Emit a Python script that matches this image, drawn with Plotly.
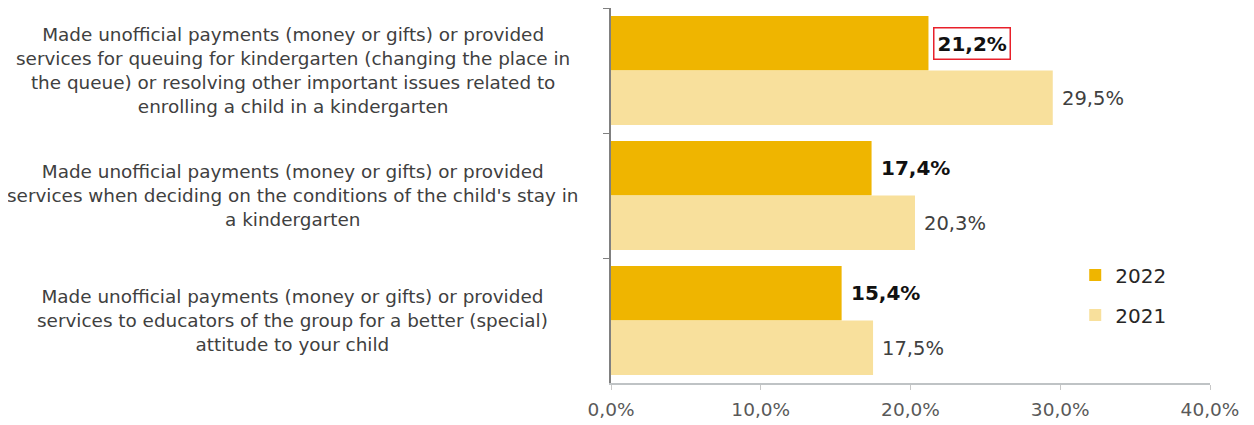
import plotly.graph_objects as go

categories = [
    "Made unofficial payments (money or gifts) or provided<br>services for queuing for kindergarten (changing the place in<br>the queue) or resolving other important issues related to<br>enrolling a child in a kindergarten",
    "Made unofficial payments (money or gifts) or provided<br>services when deciding on the conditions of the child's stay in<br>a kindergarten",
    "Made unofficial payments (money or gifts) or provided<br>services to educators of the group for a better (special)<br>attitude to your child",
]
keys = ["c1", "c2", "c3"]
values_2022 = [21.2, 17.4, 15.4]
values_2021 = [29.5, 20.3, 17.5]
tick_vals = [0, 10, 20, 30, 40]
tick_text = ["0,0%", "10,0%", "20,0%", "30,0%", "40,0%"]

FONT = "'DejaVu Sans', Verdana, sans-serif"
C2022 = "#EFB500"
C2021 = "#F8E09C"

fig = go.Figure()
fig.add_trace(go.Bar(y=keys, x=values_2022, orientation="h", name="2022",
                     marker=dict(color=C2022, line=dict(width=0)), legendgroup="a"))
fig.add_trace(go.Bar(y=keys, x=values_2021, orientation="h", name="2021",
                     marker=dict(color=C2021, line=dict(width=0)), legendgroup="b"))

annotations = []
for k, lab in zip(keys, categories):
    annotations.append(dict(xref="paper", yref="y", x=-0.531, y=k, text=lab,
                            showarrow=False, xanchor="center", yanchor="middle",
                            align="center", font=dict(family=FONT, size=18.4, color="#404040")))
for i, (k, v) in enumerate(zip(keys, values_2022)):
    a = dict(xref="x", yref="y", x=v, y=k, text="<b>" + f"{v:.1f}".replace(".", ",") + "%</b>",
             showarrow=False, xanchor="left", yanchor="middle", yshift=27.5, xshift=7,
             font=dict(family=FONT, size=20, color="#111111"))
    if i == 0:
        a.update(bordercolor="#E8202A", borderwidth=1.5, borderpad=3, xshift=5)
    annotations.append(a)
for k, v in zip(keys, values_2021):
    annotations.append(dict(xref="x", yref="y", x=v, y=k, text=f"{v:.1f}".replace(".", ",") + "%",
                            showarrow=False, xanchor="left", yanchor="middle", yshift=-27.5, xshift=7,
                            font=dict(family=FONT, size=19.5, color="#404040")))

# page body has an 8px margin: shrink figure so the plot lands at the same pixels
fig.update_layout(
    width=1246, height=417,
    margin=dict(l=603, r=44, t=0, b=42),
    paper_bgcolor="white", plot_bgcolor="white",
    barmode="group", bargap=0.127, bargroupgap=0,
    font=dict(family=FONT, size=16, color="#595959"),
    showlegend=True,
    legend=dict(x=0.775, y=0.34, xanchor="left", yanchor="top",
                traceorder="grouped", tracegroupgap=11,
                font=dict(family=FONT, size=20, color="#262626"),
                bgcolor="rgba(0,0,0,0)"),
    annotations=annotations,
)
fig.update_xaxes(range=[0, 40], tickvals=tick_vals, ticktext=tick_text,
                 showgrid=False, zeroline=False, showline=True, linecolor="#BFC3C5", linewidth=2,
                 ticks="outside", ticklen=5, tickcolor="#C8C8C8", ticklabelstandoff=4,
                 tickfont=dict(family=FONT, size=18.5, color="#595959"))
fig.update_yaxes(type="category", autorange="reversed", showticklabels=False,
                 tickson="boundaries", ticks="outside", ticklen=6, tickcolor="#808080",
                 showgrid=False, zeroline=False, showline=True, linecolor="#808080", linewidth=1.5)

fig.write_html("out.html")
